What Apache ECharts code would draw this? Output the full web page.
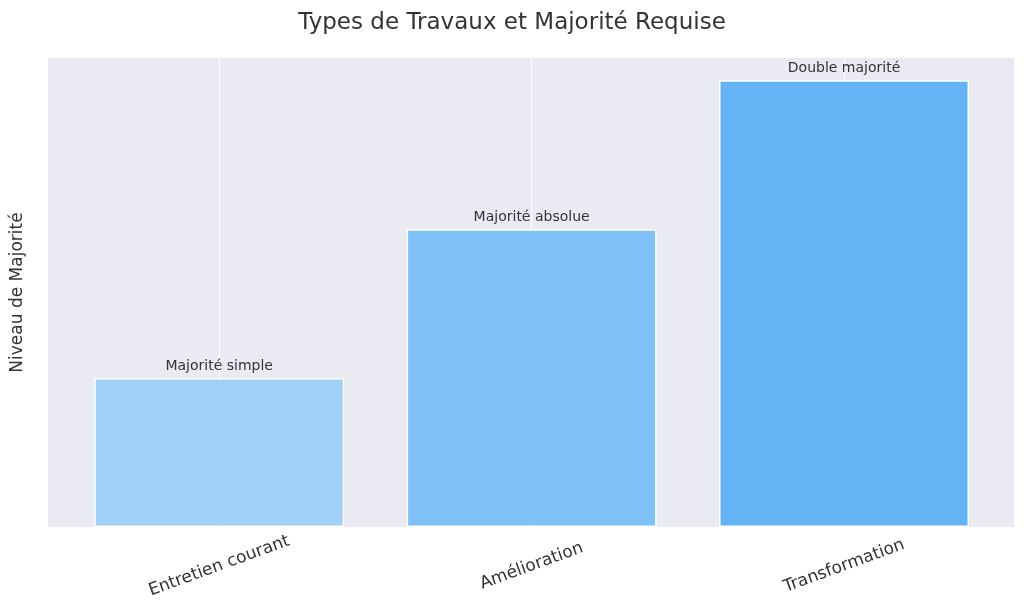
<!DOCTYPE html>
<html>
<head>
<meta charset="utf-8">
<script src="https://cdn.jsdelivr.net/npm/echarts@6/dist/echarts.min.js"></script>
<style>
  html, body { margin: 0; padding: 0; background: #fff; }
  #chart { width: 1024px; height: 611px; }
</style>
</head>
<body>
<div id="chart"></div>
<script>
// data
const categories = ['Entretien courant', 'Amélioration', 'Transformation'];
const levels = [1, 2, 3];
const majorityLabels = ['Majorité simple', 'Majorité absolue', 'Double majorité'];
const barColors = ['rgba(144,202,249,0.8)', 'rgba(100,181,246,0.8)', 'rgba(66,165,245,0.8)'];

const positions = categories.map(function (c, i) { return i; });
const chart = echarts.init(document.getElementById('chart'));
const font = 'DejaVu Sans';

chart.setOption({
    textStyle: { fontFamily: font },
    title: {
        text: 'Types de Travaux et Majorité Requise',
        left: 'center',
        top: 7,
        textStyle: { fontSize: 23, fontWeight: 'normal', color: '#333', fontFamily: font }
    },
    grid: {
        left: 48, right: 10, top: 58, bottom: 84,
        containLabel: false, outerBoundsMode: 'none',
        backgroundColor: '#EAEAF2', show: true, borderWidth: 0
    },
    xAxis: {
        // category positions 0..2 with matplotlib-like margins
        type: 'value',
        min: -0.548,
        max: 2.544,
        axisLine: { show: false },
        axisTick: { show: false, customValues: positions },
        splitLine: { show: true, lineStyle: { color: '#ffffff', width: 1 } },
        axisLabel: {
            customValues: positions,
            formatter: function (v) { return categories[Math.round(v)]; },
            rotate: 20,
            align: 'center',
            verticalAlign: 'middle',
            margin: 39,
            fontSize: 17,
            color: '#333'
        }
    },
    yAxis: {
        type: 'value',
        min: 0,
        max: 3.15,
        name: 'Niveau de Majorité',
        nameLocation: 'middle',
        nameGap: 22,
        nameTextStyle: { fontSize: 17, color: '#333' },
        axisLine: { show: false },
        axisTick: { show: false },
        axisLabel: { show: false },
        splitLine: { show: false }
    },
    series: [{
        type: 'bar',
        barWidth: 250,
        data: levels.map(function (v, i) {
            return { value: [positions[i], v], itemStyle: { color: barColors[i] } };
        }),
        itemStyle: { borderColor: '#fff', borderWidth: 1.5 },
        label: {
            show: true,
            position: 'top',
            distance: 5,
            fontSize: 14,
            color: '#333',
            formatter: function (p) { return majorityLabels[p.dataIndex]; }
        }
    }]
});
</script>
</body>
</html>
